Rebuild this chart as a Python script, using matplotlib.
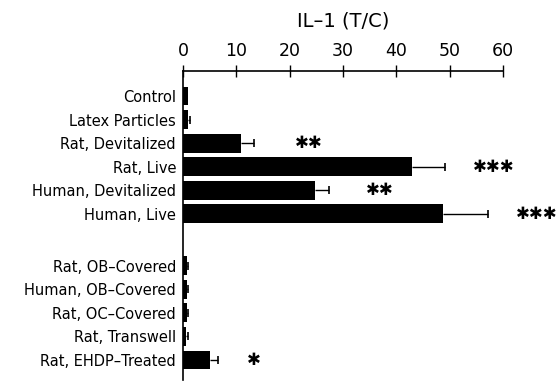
import matplotlib.pyplot as plt

labels = ["Control", "Latex Particles", "Rat, Devitalized", "Rat, Live",
          "Human, Devitalized", "Human, Live",
          "Rat, OB\u2013Covered", "Human, OB\u2013Covered", "Rat, OC\u2013Covered",
          "Rat, Transwell", "Rat, EHDP\u2013Treated"]
values = [1.0, 0.9, 10.9, 42.9, 24.7, 48.7, 0.8, 0.7, 0.8, 0.5, 5.1]
errors = [0.0, 0.4, 2.5, 6.3, 2.6, 8.4, 0.2, 0.2, 0.2, 0.5, 1.4]
stars = ["", "", "**", "***", "**", "***", "", "", "", "", "*"]
star_x = [0, 0, 23.5, 58.3, 36.9, 66.3, 0, 0, 0, 0, 13.2]
tick_vals = [0, 10, 20, 30, 40, 50, 60]

# rows: first group 0..5, second group after a gap
pos = [0, 1, 2, 3, 4, 5, 7.2, 8.2, 9.2, 10.2, 11.2]

fig = plt.figure(figsize=(5.58, 3.81), dpi=100)
ax = fig.add_axes([0.328, 0.0026, 0.5735, 0.811])

ax.barh(pos, values, height=0.8, color="black")

# one-sided error bars, cap only at the outer end
for v, e, p in zip(values, errors, pos):
    if e > 0:
        ax.hlines(p, v, v + e, color="black", linewidth=1)
        ax.plot([v + e], [p], marker="|", color="black", markersize=6,
                markeredgewidth=1.2)

for p, s, x in zip(pos, stars, star_x):
    if s:
        ax.text(x, p, "\u2731" * len(s), ha="center", va="center",
                fontsize=12, clip_on=False)

ax.set_xlim(0, 60)
ax.set_ylim(12.05, -1.06)
ax.xaxis.tick_top()
ax.xaxis.set_label_position("top")
ax.set_xticks(tick_vals)
ax.set_xticklabels([str(t) for t in tick_vals], fontsize=12.5)
ax.tick_params(axis="x", direction="inout", length=8, width=1, pad=4)
ax.set_xlabel("IL\u20131 (T/C)", fontsize=14, labelpad=11)

ax.set_yticks(pos)
ax.set_yticklabels(labels, fontsize=10.5)
ax.tick_params(axis="y", length=0, pad=5)

ax.spines["right"].set_visible(False)
ax.spines["bottom"].set_visible(False)
for sp in ["top", "left"]:
    ax.spines[sp].set_linewidth(1.2)

fig.savefig("out.png", dpi=100)
